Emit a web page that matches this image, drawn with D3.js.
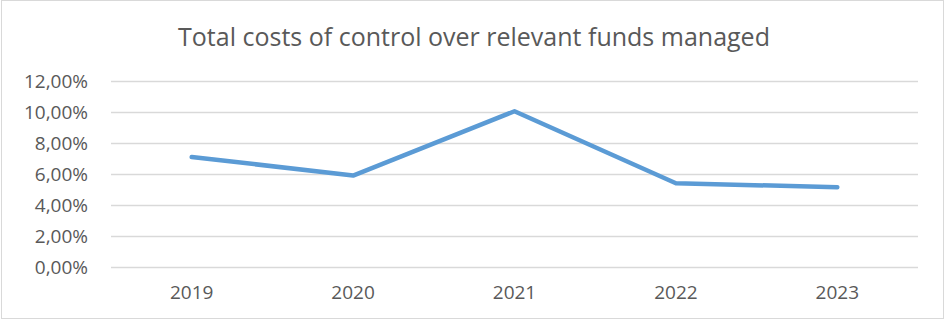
<!DOCTYPE html>
<html>
<head>
<meta charset="utf-8">
<script src="https://cdn.jsdelivr.net/npm/d3@7"></script>
<style>
  html, body { margin: 0; padding: 0; background: #fff; }
  svg { display: block; }
  text { font-family: "Open Sans", "Noto Sans", sans-serif; fill: #595959; }
</style>
</head>
<body>
<svg id="chart" width="945" height="320"></svg>
<script>
const years = ["2019", "2020", "2021", "2022", "2023"];
const costShare = [7.1, 5.9, 10.05, 5.4, 5.15];
const yTicks = [0, 2, 4, 6, 8, 10, 12];
const title = "Total costs of control over relevant funds managed";

const W = 945, H = 320;
const margin = { left: 111, right: 27, top: 81, bottom: 53 };

const svg = d3.select("#chart");

// chart area frame
svg.append("rect")
  .attr("x", 1.5).attr("y", 0.5)
  .attr("width", W - 3).attr("height", H - 2)
  .attr("fill", "#fff").attr("stroke", "#d9d9d9").attr("stroke-width", 1);

const x = d3.scaleBand()
  .domain(years)
  .range([margin.left, W - margin.right]);

const y = d3.scaleLinear()
  .domain([0, 12])
  .range([H - margin.bottom, margin.top]);

const fmt = v => d3.format(".2f")(v).replace(".", ",") + "%";

// horizontal gridlines + y labels
const yAxis = d3.axisLeft(y)
  .tickValues(yTicks)
  .tickSize(-(W - margin.left - margin.right))
  .tickPadding(23)
  .tickFormat(fmt);

const gy = svg.append("g")
  .attr("transform", `translate(${margin.left},0)`)
  .call(yAxis);
gy.select(".domain").remove();
gy.selectAll(".tick line").attr("stroke", "#d9d9d9").attr("stroke-width", 1.5);
gy.selectAll(".tick text")
  .style("font-family", "'Open Sans', sans-serif")
  .style("font-size", "19px")
  .style("fill", "#595959");

// x labels
const xAxis = d3.axisBottom(x).tickSize(0).tickPadding(19);
const gx = svg.append("g")
  .attr("transform", `translate(0,${H - margin.bottom})`)
  .call(xAxis);
gx.select(".domain").remove();
gx.selectAll(".tick text")
  .style("font-family", "'Open Sans', sans-serif")
  .style("font-size", "19px")
  .style("fill", "#595959");

// data line
const line = d3.line()
  .x((d, i) => x(years[i]) + x.bandwidth() / 2)
  .y(d => y(d));

svg.append("path")
  .datum(costShare)
  .attr("d", line)
  .attr("fill", "none")
  .attr("stroke", "#5b9bd5")
  .attr("stroke-width", 4.5)
  .attr("stroke-linejoin", "round")
  .attr("stroke-linecap", "round");

// title
svg.append("text")
  .attr("x", 474).attr("y", 46)
  .attr("text-anchor", "middle")
  .style("font-size", "25px")
  .text(title);
</script>
</body>
</html>
